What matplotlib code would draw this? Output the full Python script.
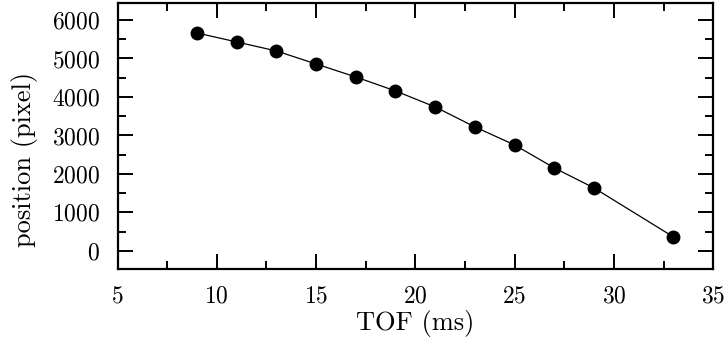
import matplotlib
matplotlib.use("Agg")
import matplotlib.pyplot as plt
from matplotlib.ticker import MultipleLocator

plt.rcParams['font.family'] = 'serif'
plt.rcParams['font.serif'] = ['cmr10', 'DejaVu Serif']
plt.rcParams['mathtext.fontset'] = 'cm'
plt.rcParams['axes.formatter.use_mathtext'] = True

tof = [9, 11, 13, 15, 17, 19, 21, 23, 25, 27, 29, 33]
position = [5662, 5429, 5195, 4857, 4519, 4156, 3740, 3221, 2753, 2156, 1636, 364]

fig = plt.figure(figsize=(7.24, 3.43), dpi=100)
ax = fig.add_axes([0.1623, 0.2157, 0.8227, 0.7755])
ax.plot(tof, position, color='black', lw=0.9, marker='o', ms=9, mfc='black', mec='black')
ax.set_xlim(5, 35)
ax.set_ylim(-470, 6440)
ax.xaxis.set_major_locator(MultipleLocator(5))
ax.xaxis.set_minor_locator(MultipleLocator(2.5))
ax.yaxis.set_major_locator(MultipleLocator(1000))
ax.yaxis.set_minor_locator(MultipleLocator(500))
ax.tick_params(which='both', direction='in', top=True, right=True, width=1.4, labelsize=17)
ax.tick_params(axis='x', which='major', length=11, pad=12)
ax.tick_params(axis='y', which='major', length=11, pad=12.5)
ax.tick_params(which='minor', length=6)
for s in ax.spines.values():
    s.set_linewidth(1.6)
ax.set_xlabel('TOF (ms)', fontsize=19)
ax.set_ylabel('position (pixel)', fontsize=19)
ax.xaxis.set_label_coords(0.5, -0.155)
ax.yaxis.set_label_coords(-0.134, 0.412)
fig.savefig('out.png', dpi=100)
